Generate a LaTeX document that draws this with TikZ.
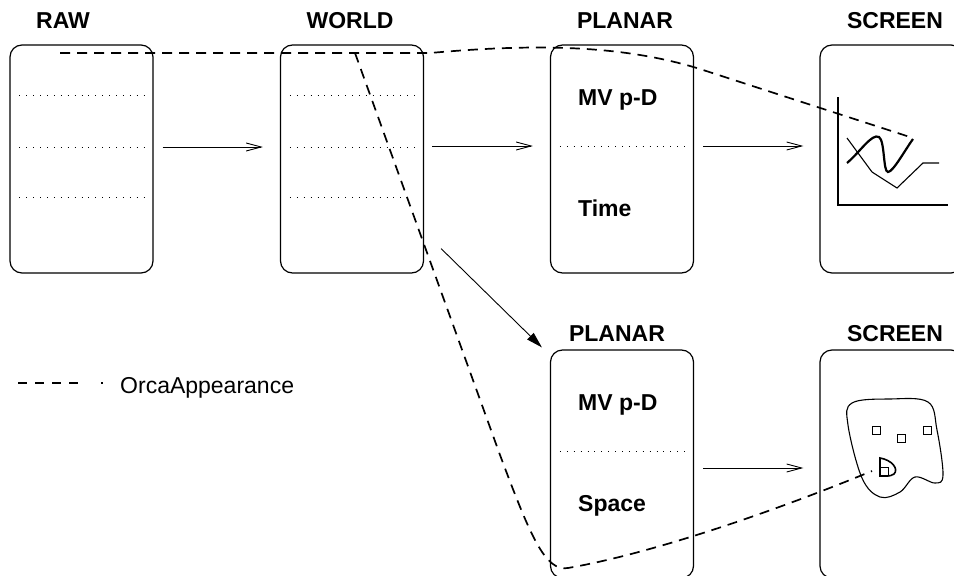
\documentclass[tikz,border=0pt]{standalone}
\usepackage{fontspec}
\setmainfont{Liberation Sans}
\usetikzlibrary{arrows.meta,calc}

\begin{document}
\begin{tikzpicture}[x=1pt,y=-1pt,
  stage/.style={draw, rounded corners=12pt, minimum width=143pt,
    minimum height=228pt, inner sep=0pt, line width=1.2pt},
  title/.style={font=\fontsize{23}{27}\selectfont\bfseries, anchor=base, inner sep=0pt},
  inner/.style={font=\fontsize{23}{27}\selectfont\bfseries, anchor=base west, inner sep=0pt},
  sep/.style={line width=0.9pt, dash pattern=on 0.9pt off 6pt},
  flow/.style={line width=0.9pt, -{Straight Barb[length=15pt,width=8pt,line width=0.9pt]}},
  branch/.style={line width=0.9pt, -{Triangle[length=16pt,width=9pt]}},
  orca/.style={line width=1.7pt, dash pattern=on 10pt off 7pt},
  plotline/.style={line width=1.1pt}]

\useasboundingbox (0,0) rectangle (954,576);
\clip (0,0) rectangle (954,576);

% stage boxes
\node[stage] (raw)     at (81.5,159) {};
\node[stage] (world)   at (352,159) {};
\node[stage] (planarT) at (622,159) {};
\node[stage] (screenT) at (891.5,159) {};
\node[stage] (planarB) at (622,464) {};
\node[stage] (screenB) at (891.5,464) {};

% titles
\node[title] (tRaw)     at (63,28)   {RAW};
\node[title] (tWorld)   at (350,28)  {WORLD};
\node[title] (tPlanarT) at (625,28)  {PLANAR};
\node[title] (tScreenT) at (895,28)  {SCREEN};
\node[title] (tPlanarB) at (617,341) {PLANAR};
\node[title] (tScreenB) at (895,341) {SCREEN};

% labels inside the planar boxes
\node[inner] (mvT)   at (578,105) {MV p-D};
\node[inner] (time)  at (578,216) {Time};
\node[inner] (mvB)   at (578,410) {MV p-D};
\node[inner] (space) at (578,511) {Space};

% dotted separators
\foreach \dy in {-64,-12,38} {
  \draw[sep] ($(raw.west)+(10,\dy)$) -- ($(raw.east)+(-9,\dy)$);
}
\draw[sep] ($(world.west)+(10,-64)$) -- ($(world.east)+(-9,-64)$);
\draw[sep] ($(world.west)+(10,-12)$) -- ($(world.east)+(-9,-12)$);
\draw[sep] ($(world.west)+(10,38)$) -- ($(world.east)+(-21,38)$);
\draw[sep] ($(planarT.west)+(10,-13)$) -- ($(planarT.east)+(-9,-13)$);
\draw[sep] ($(planarB.west)+(10,-13)$) -- ($(planarB.east)+(-9,-13)$);

% data flow
\draw[flow] ($(raw.east)+(9,-12)$) -- ($(world.west)+(-17,-12)$);
\draw[flow] ($(world.east)+(8,-13)$) -- ($(planarT.west)+(-17,-13)$);
\draw[flow] ($(planarT.east)+(9,-13)$) -- ($(screenT.west)+(-16,-13)$);
\draw[flow] ($(planarB.east)+(9,4)$) -- ($(screenB.west)+(-16,4)$);
\draw[branch] ($(world.south east)+(17,-25)$) -- ($(planarB.north west)+(-8,-2)$);

% time plot on the upper screen
\draw[plotline] (838,97) -- (838,205) -- (948,205);
\draw[plotline] (847,138) -- (872,172) -- (897,188) -- (923,163) -- (939,163);
\draw[line width=2.2pt] (847,163) .. controls (860,152) and (872,133) .. (879,137)
  .. controls (885,141) and (883,172) .. (888,172)
  .. controls (893,172) and (905,150) .. (913,139);

% space plot on the lower screen
\draw[plotline] plot[smooth cycle, tension=0.6] coordinates {
  (852,403) (890,399) (928,402) (937,430) (943,475) (935,483)
  (915,477) (900,492) (880,497) (862,478) (848,425)};
\foreach \cx/\cy in {876/430, 901/438, 927/430, 884/471} {
  \draw[line width=1pt] (\cx-4,\cy-4) rectangle (\cx+4,\cy+4);
}
\draw[line width=1.6pt] (880,458) .. controls (892,460) and (899,469) .. (894,474)
  .. controls (890,477) and (884,476) .. (880,476) -- cycle;

% appearance path
\coordinate (oStart)  at (60,53);
\coordinate (oFork)   at (355,53);
\coordinate (oTopEnd) at (913,138);
\coordinate (oLowEnd) at (872,471);
\draw[orca] (oStart) -- (430,53) .. controls (530,44) and (620,44) .. (700,69) -- (oTopEnd);
\draw[orca] (oFork) -- (500,455) .. controls (530,535) and (545,572) .. (568,568)
  .. controls (660,552) and (790,505) .. (oLowEnd);

% legend
\coordinate (lgA) at (18,383);
\coordinate (lgB) at (103,383);
\draw[line width=1.7pt, dash pattern=on 9pt off 8pt on 9pt off 8pt on 9pt off 8pt on 9pt off 23pt on 2pt off 20pt] (lgA) -- (lgB);
\node[anchor=base west, inner sep=0pt, font=\fontsize{23}{27}\selectfont] (lgText) at (120,393) {OrcaAppearance};

\end{tikzpicture}
\end{document}
